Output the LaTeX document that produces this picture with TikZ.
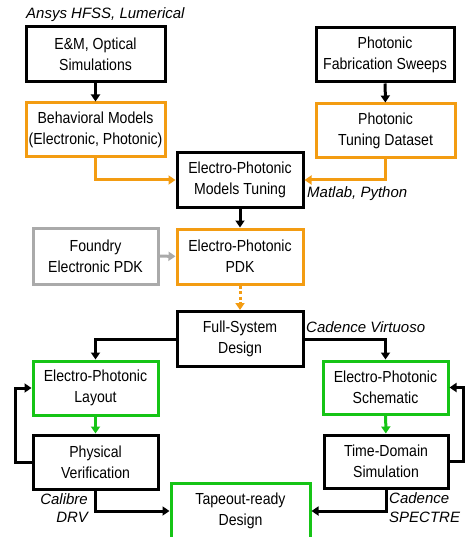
\documentclass[tikz,border=0pt]{standalone}
\usepackage{fontspec}
\setmainfont{Liberation Sans}[FakeStretch=0.88]
\newfontfamily\labfont{Liberation Sans}
\usetikzlibrary{arrows.meta}
\definecolor{myor}{RGB}{243,156,18}
\definecolor{mygr}{RGB}{22,196,22}
\definecolor{mygy}{RGB}{170,170,170}
\tikzset{
  box/.style={draw, line width=3pt, fill=white, align=center, inner sep=0pt,
    font=\fontsize{16}{21}\selectfont},
  conn/.style={line width=3pt, -{Triangle[width=9pt,length=7pt]}},
  lab/.style={inner sep=0pt, font=\labfont\itshape\fontsize{15}{18.5}\selectfont}
}
\begin{document}
\begin{tikzpicture}[x=1pt,y=-1pt]
\useasboundingbox (0,0) rectangle (466,537);
\clip (0,0) rectangle (466,537);
% boxes
\node[box, minimum width=139pt, minimum height=55pt] (em) at (95.5,54.5) {E\&M, Optical\\Simulations};
\node[box, draw=myor, minimum width=139pt, minimum height=54pt] (beh) at (95.5,130) {Behavioral Models\\(Electronic, Photonic)};
\node[box, minimum width=138pt, minimum height=54pt] (pfs) at (385,55) {Photonic\\Fabrication Sweeps};
\node[box, draw=myor, minimum width=139pt, minimum height=54pt] (ptd) at (385.5,131) {Photonic\\Tuning Dataset};
\node[box, minimum width=126pt, minimum height=54pt] (epmt) at (240,180) {Electro-Photonic\\Models Tuning};
\node[box, draw=myor, minimum width=126pt, minimum height=55pt] (eppdk) at (240,256.5) {Electro-Photonic\\PDK};
\node[box, draw=mygy, minimum width=125pt, minimum height=56pt] (fep) at (95.5,256) {Foundry\\Electronic PDK};
\node[box, minimum width=126pt, minimum height=55pt] (fsd) at (240,339) {Full-System\\Design};
\node[box, draw=mygr, minimum width=125pt, minimum height=54pt] (lay) at (95.5,388) {Electro-Photonic\\Layout};
\node[box, minimum width=125pt, minimum height=54pt] (pv) at (95.5,462) {Physical\\Verification};
\node[box, draw=mygr, minimum width=125pt, minimum height=53pt] (sch) at (385.5,387.5) {Electro-Photonic\\Schematic};
\node[box, minimum width=124pt, minimum height=53pt] (td) at (386,461.5) {Time-Domain\\Simulation};
\node[box, draw=mygr, minimum width=139pt, minimum height=56pt] (tap) at (240.5,511) {Tapeout-ready\\Design};
% connectors
\draw[conn] (em) -- (beh);
\draw[conn, myor] (beh.south) |- (epmt.west);
\draw[conn] (pfs) -- (ptd);
\draw[conn, myor] (ptd.south) |- (epmt.east);
\draw[conn] (epmt) -- (eppdk);
\draw[conn, mygy] (fep) -- (eppdk);
\draw[conn, myor, dash pattern=on 3pt off 2.5pt] (eppdk) -- (fsd);
\draw[conn] (fsd.west) -| (lay.north);
\draw[conn] (fsd.east) -| (sch.north);
\draw[conn, mygr] (lay) -- (pv);
\draw[conn, mygr] (sch) -- (td);
\draw[conn] (pv.west) -- ++(-16,0) |- (lay.west);
\draw[conn] (td.east) -- ++(14,0) |- (sch.east);
\draw[conn] (pv.south) |- (tap.west);
\draw[conn] (td.south) |- (tap.east);
% labels
\node[lab, anchor=base west] (l1) at (26,18.5) {Ansys HFSS, Lumerical};
\node[lab, anchor=base west] (l2) at (307,197) {Matlab, Python};
\node[lab, anchor=base west] (l3) at (306,332) {Cadence Virtuoso};
\node[lab, anchor=base east, align=right] (l4) at (88,522.5) {Calibre\\DRV};
\node[lab, anchor=base west, align=left] (l5) at (389,522) {Cadence\\SPECTRE};
\end{tikzpicture}
\end{document}
